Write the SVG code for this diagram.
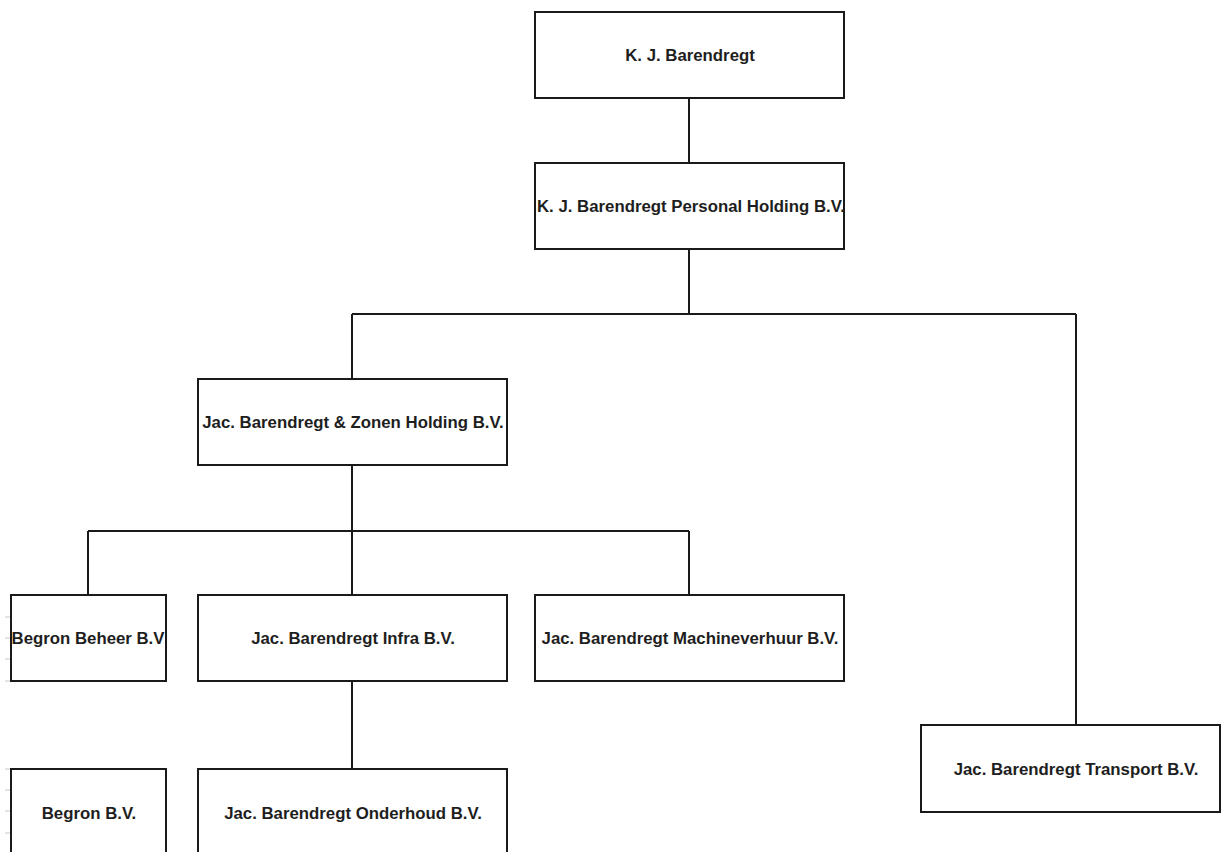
<svg xmlns="http://www.w3.org/2000/svg" width="1221" height="852" viewBox="0 0 1221 852">
<style>
.box{fill:#fff;stroke:#1a1a1a;stroke-width:2}
.lbl{font-family:"Liberation Sans",Arial,sans-serif;font-weight:bold;font-size:16.8px;fill:#1e1e1e;text-anchor:middle;dominant-baseline:central}
.con{fill:none;stroke:#1a1a1a;stroke-width:2}
.tick{stroke:#c8c8c8;stroke-width:1}
</style>
<rect width="1221" height="852" fill="#fff"/>
<g id="ticks">
<line class="tick" x1="5" y1="617" x2="10" y2="617"/>
<line class="tick" x1="5" y1="638" x2="10" y2="638"/>
<line class="tick" x1="5" y1="659" x2="10" y2="659"/>
<line class="tick" x1="5" y1="681" x2="10" y2="681"/>
<line class="tick" x1="5" y1="769" x2="10" y2="769"/>
<line class="tick" x1="5" y1="790" x2="10" y2="790"/>
<line class="tick" x1="5" y1="811" x2="10" y2="811"/>
<line class="tick" x1="5" y1="833" x2="10" y2="833"/>
</g>
<g id="connectors">
<path class="con" d="M689 98V163"/>
<path class="con" d="M689 249V314M352 314H1076M352 314V379M1076 314V725"/>
<path class="con" d="M352 465V595M88 531H689M88 531V595M689 531V595"/>
<path class="con" d="M352 681V769"/>
</g>
<g id="n1"><rect class="box" x="535" y="12" width="309" height="86"/><text class="lbl" x="690" y="55">K. J. Barendregt</text></g>
<g id="n2"><rect class="box" x="535" y="163" width="309" height="86"/><text class="lbl" x="691" y="206">K. J. Barendregt Personal Holding B.V.</text></g>
<g id="n3"><rect class="box" x="198" y="379" width="309" height="86"/><text class="lbl" x="353" y="422">Jac. Barendregt &amp; Zonen Holding B.V.</text></g>
<g id="n4"><rect class="box" x="11" y="595" width="155" height="86"/><text class="lbl" x="88" y="638">Begron Beheer B.V</text></g>
<g id="n5"><rect class="box" x="198" y="595" width="309" height="86"/><text class="lbl" x="353" y="638">Jac. Barendregt Infra B.V.</text></g>
<g id="n6"><rect class="box" x="535" y="595" width="309" height="86"/><text class="lbl" x="690" y="638">Jac. Barendregt Machineverhuur B.V.</text></g>
<g id="n7"><rect class="box" x="11" y="769" width="155" height="90"/><text class="lbl" x="89" y="813">Begron B.V.</text></g>
<g id="n8"><rect class="box" x="198" y="769" width="309" height="90"/><text class="lbl" x="353" y="813">Jac. Barendregt Onderhoud B.V.</text></g>
<g id="n9"><rect class="box" x="921" y="725" width="299" height="87"/><text class="lbl" x="1076" y="769">Jac. Barendregt Transport B.V.</text></g>
</svg>
